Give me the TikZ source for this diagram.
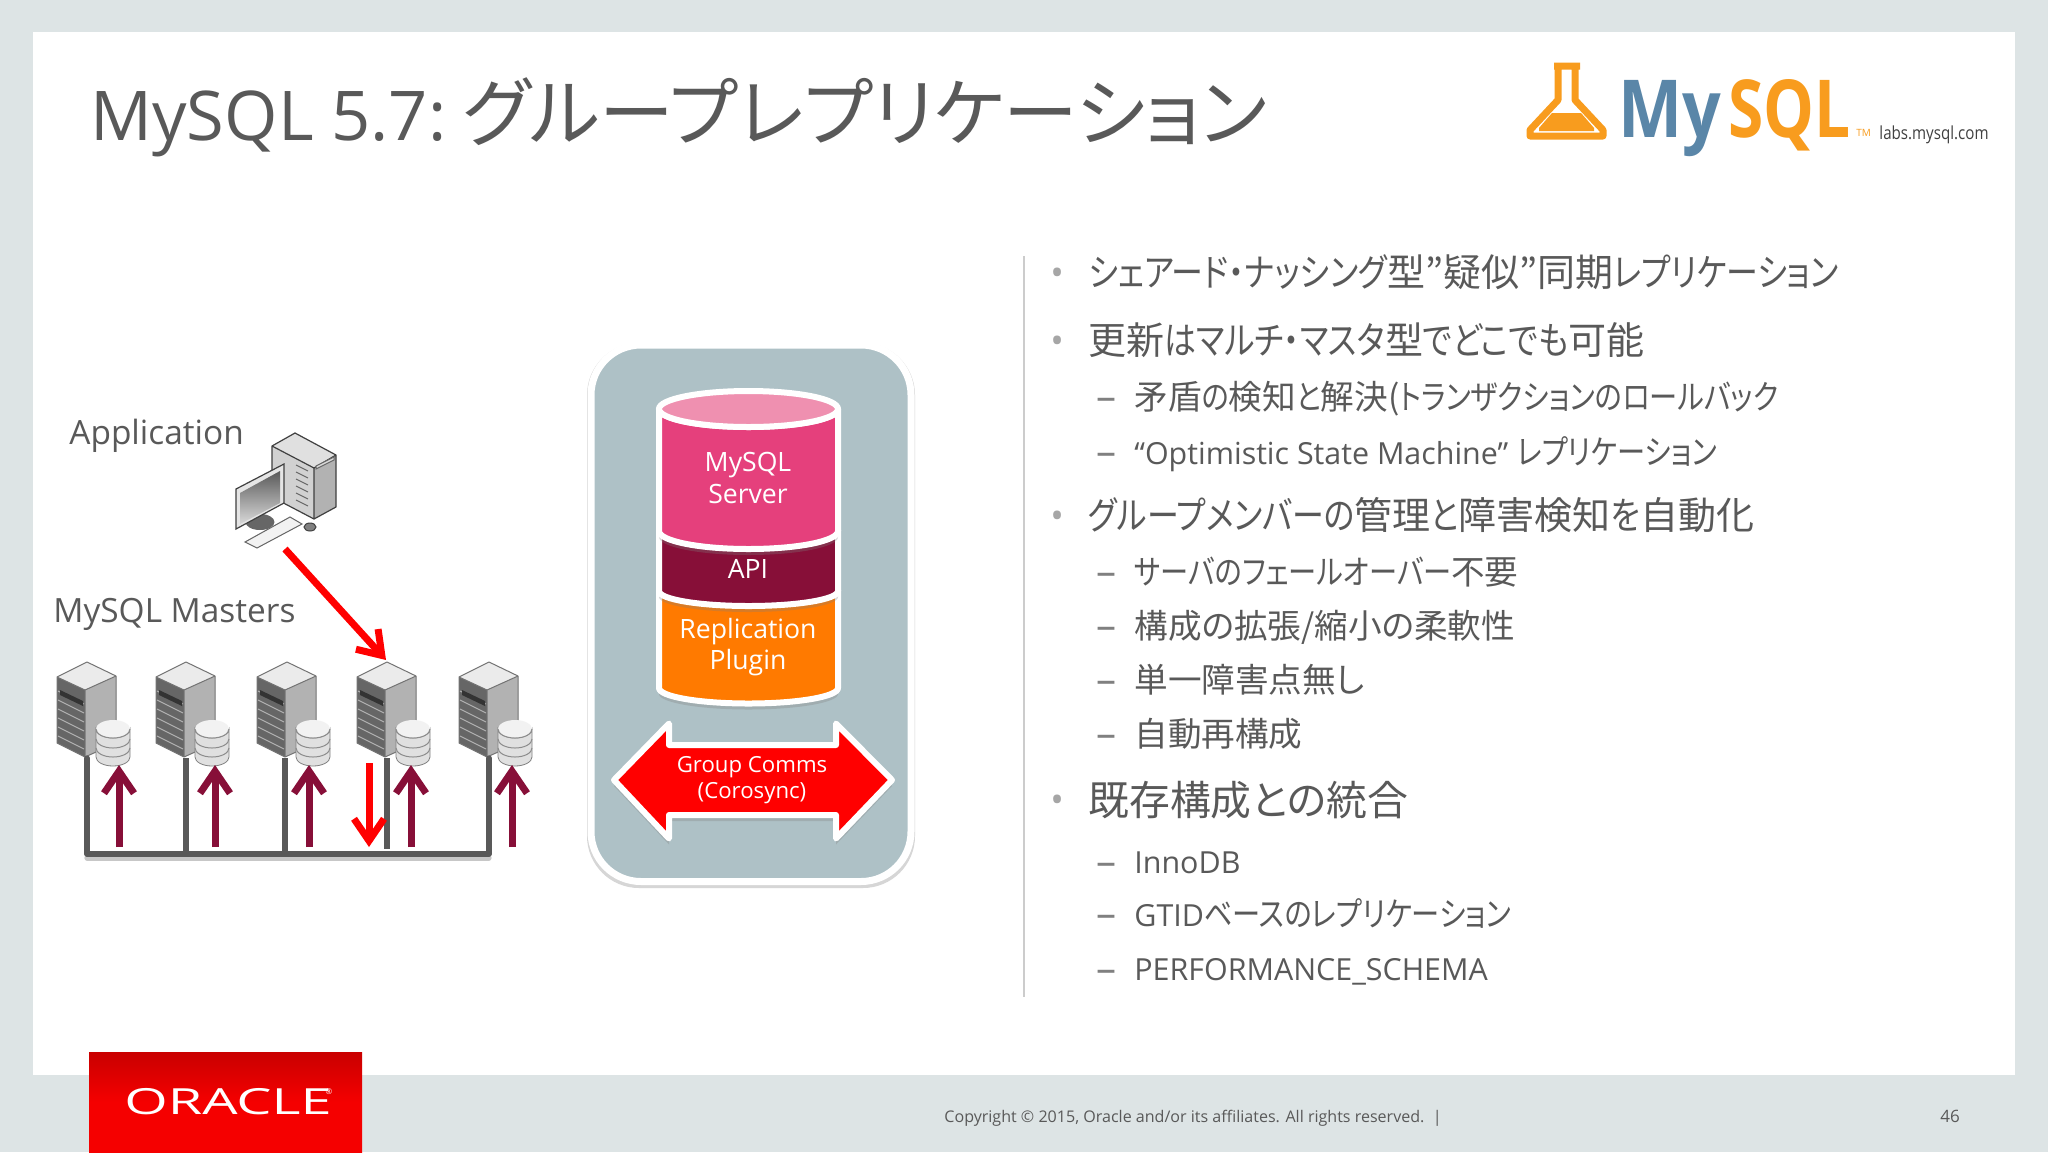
\documentclass[tikz,border=0pt]{standalone}
\usepackage{fontspec}
\setmainfont{Open Sans}
\newfontfamily\jpfont[Script=CJK,RawFeature={+palt}]{Noto Sans CJK JP}
\newfontfamily\kanafont[Script=CJK,RawFeature={+palt},FakeStretch=.84]{Noto Sans CJK JP}
\newcommand{\jp}[1]{{\jpfont #1}}
\newcommand{\kn}[1]{{\kanafont #1}}
\newcommand{\fs}[1]{\fontsize{#1}{#1}\selectfont}
\newcommand{\lat}[1]{{\fs{15.2}#1}}
\usetikzlibrary{arrows.meta,shadows}
\definecolor{slidebg}{HTML}{DDE4E5}
\definecolor{txtgrey}{HTML}{595959}
\definecolor{panelblue}{HTML}{AEC1C6}
\definecolor{pinkbody}{HTML}{E5407C}
\definecolor{pinktop}{HTML}{EF90B0}
\definecolor{apimaroon}{HTML}{870F38}
\definecolor{plugorange}{HTML}{FF7A00}
\definecolor{logoblue}{HTML}{5A86A8}
\definecolor{logoorange}{HTML}{F89C1E}
\definecolor{orared}{HTML}{F50000}
\tikzset{
  lead/.style={anchor=base west,text=txtgrey,inner sep=0pt,font=\fs{19}},
  sublead/.style={anchor=base west,text=txtgrey,inner sep=0pt,font=\fs{16.8}},
  bulletmark/.style={anchor=base,text=black!35,inner sep=0pt,font=\fs{18}},
  dashmark/.style={anchor=base west,text=black!50,inner sep=0pt,font=\fs{20}},
  sidetxt/.style={anchor=base west,text=txtgrey,inner sep=0pt,font=\fs{16.7}},
  stacktxt/.style={text=white,inner sep=0pt,font=\fs{13.3},align=center},
  stackbody/.style={draw=white,line width=3pt,line join=round,drop shadow={opacity=.3,shadow xshift=0pt,shadow yshift=-3pt}},
  uparrow/.style={-{Straight Barb[length=11pt,width=15pt]},line width=3.5pt,draw=apimaroon},
  redarrow/.style={-{Straight Barb[length=11pt,width=15pt]},line width=3.5pt,draw=red},
  busline/.style={line width=2.6pt,draw=black!65},
  serverbox/.pic={
    \fill[black!8] (0,0) -- (30,-15) -- (59,-1) -- (28,13) -- cycle;
    \fill[black!60] (0,0) -- (28,13) -- (28,80) -- (0,66) -- cycle;
    \fill[black!30] (28,13) -- (59,-1) -- (59,66) -- (28,80) -- cycle;
    \draw[black!55,line width=.5pt,line join=round] (0,0) -- (30,-15) -- (59,-1) -- (59,66) -- (28,80) -- (0,66) -- cycle (0,0) -- (28,13) -- (59,-1) (28,13) -- (28,80);
    \foreach \rowy in {14,23,32,41,50,59}
      \draw[black!30,line width=.5pt] (1,\rowy) -- (27,\rowy+13);
    \fill[black!80] (3,13) -- (26,24) -- (26,29) -- (3,18) -- cycle;
    \draw[black!50,line width=.4pt,fill=black!12] (39,52) -- (39,80) arc[start angle=180,end angle=0,x radius=17,y radius=9] -- (73,52) arc[start angle=0,end angle=180,x radius=17,y radius=9] -- cycle;
    \fill[black!5] (56,52) ellipse[x radius=17,y radius=9];
    \draw[black!45,line width=.5pt] (39,52) arc[start angle=180,end angle=0,x radius=17,y radius=9];
    \draw[black!45,line width=.5pt] (39,62) arc[start angle=180,end angle=0,x radius=17,y radius=9];
    \draw[black!45,line width=.5pt] (39,71) arc[start angle=180,end angle=0,x radius=17,y radius=9];
  }
}
\begin{document}
\begin{tikzpicture}[x=0.5pt,y=-0.5pt]
\useasboundingbox (0,0) rectangle (2048,1152);
\fill[slidebg] (0,0) rectangle (2048,1152);
\fill[white] (33,32) rectangle (2015,1075);

\node[anchor=base west,text=txtgrey,inner sep=0pt,font=\fs{34.3}] (title) at (90,140) {MySQL 5.7:\hspace{8pt}\jp{\fs{37.4}グループレプリケーション}};

\draw[line width=3.5pt,draw=logoorange,line join=round] (1554,66) -- (1580,66) (1558,66) -- (1558,100) -- (1530,130) -- (1530,136) -- (1603,136) -- (1603,130) -- (1575,100) -- (1575,66);
\fill[logoorange] (1539,128) -- (1552,113) -- (1581,113) -- (1594,128) -- (1594,131) -- (1539,131) -- cycle;
\node[anchor=base west,inner sep=0pt,font=\fs{40}\bfseries,text=logoblue] (logomy) at (1618,137) {\scalebox{.85}[1]{My}};
\node[anchor=base west,inner sep=0pt,font=\fs{40}\bfseries,text=logoorange] (logosql) at (1728,137) {\scalebox{.8}[1]{SQL}};
\node[anchor=base west,inner sep=0pt,font=\fs{5},text=logoorange] (logotm) at (1856,136) {TM};
\node[anchor=base west,inner sep=0pt,font=\fs{9},text=black!75] (logolabs) at (1879,139) {\scalebox{.84}[1]{labs.mysql.com}};

\node[sidetxt] (appname) at (69,444) {Application};
\node[sidetxt] (mastername) at (53,622) {MySQL Masters};

\fill[black!12] (272,446) -- (295,433) -- (336,455) -- (314,468) -- cycle;
\fill[black!18] (272,446) -- (314,468) -- (314,519) -- (272,497) -- cycle;
\fill[black!30] (314,468) -- (336,455) -- (336,507) -- (314,519) -- cycle;
\draw[black!75,line width=.6pt,line join=round] (272,446) -- (295,433) -- (336,455) -- (336,507) -- (314,519) -- (272,497) -- cycle (272,446) -- (314,468) -- (336,455) (314,468) -- (314,519);
\foreach \venty in {465,472,479,486,493,500}
  \draw[black!60,line width=.5pt] (296,\venty) -- (308,\venty+6);
\draw[black!60,fill=black!15,line width=.5pt] (316,466) -- (334,457) -- (334,460) -- (316,469) -- cycle;
\fill[black!60] (260,522) ellipse[x radius=14.5,y radius=8];
\draw[black!75,fill=black!10,line width=.6pt] (236,489) -- (284,464) -- (284,503) -- (236,529) -- cycle;
\shade[top color=black!65,bottom color=black!15] (240,493) -- (280,471) -- (280,503) -- (240,524) -- cycle;
\draw[black!60,fill=black!5,line width=.5pt] (245,542) -- (290,517) -- (302,524) -- (257,548) -- cycle;
\draw[black!75,fill=black!50,line width=.5pt] (310,527) ellipse[x radius=6,y radius=4];

\foreach \srvx in {57,156,257,357,459}
  \pic at (\srvx,677) {serverbox};

\coordinate (apptail) at (285,549);
\coordinate (srvDtop) at (386,660);
\coordinate (srvAfoot) at (87,758);
\coordinate (srvBfoot) at (186,758);
\coordinate (srvCfoot) at (285,758);
\coordinate (srvDfoot) at (387,758);
\coordinate (srvEfoot) at (489,758);
\coordinate (busA) at (87,854);
\coordinate (busB) at (186,854);
\coordinate (busC) at (285,854);
\coordinate (busD) at (387,849);
\coordinate (busE) at (489,854);

\draw[busline,draw=black!22,line cap=round] (87,858) -- (489,858);
\draw[busline,line join=round,line cap=round] (srvAfoot) -- (busA) -- (busE) -- (srvEfoot);
\draw[busline] (srvBfoot) -- (busB);
\draw[busline] (srvCfoot) -- (busC);
\draw[busline] (srvDfoot) -- (busD);

\coordinate (dskAfoot) at (119,847);
\coordinate (dskAhead) at (119,765);
\coordinate (dskBfoot) at (215,847);
\coordinate (dskBhead) at (215,765);
\coordinate (dskCfoot) at (309,847);
\coordinate (dskChead) at (309,765);
\coordinate (dskDfoot) at (411,847);
\coordinate (dskDhead) at (411,765);
\coordinate (dskEfoot) at (512,847);
\coordinate (dskEhead) at (512,765);
\draw[uparrow] (dskAfoot) -- (dskAhead);
\draw[uparrow] (dskBfoot) -- (dskBhead);
\draw[uparrow] (dskCfoot) -- (dskChead);
\draw[uparrow] (dskDfoot) -- (dskDhead);
\draw[uparrow] (dskEfoot) -- (dskEhead);
\coordinate (rediin) at (369,763);
\coordinate (redout) at (369,847);
\draw[redarrow] (rediin) -- (redout);
\draw[redarrow] (apptail) -- (srvDtop);

\fill[black!16,rounded corners=26pt] (587,343) rectangle (915,888);
\draw[draw=white,line width=3.5pt,fill=panelblue,rounded corners=25pt] (591,345) rectangle (911,881.5);

\draw[stackbody,fill=plugorange] (659,590) -- (659,688) arc[start angle=180,end angle=0,x radius=89.5,y radius=15.5] -- (838,590) -- cycle;
\draw[stackbody,fill=apimaroon] (659,530) -- (659,591) arc[start angle=180,end angle=0,x radius=89.5,y radius=15] -- (838,530) -- cycle;
\draw[stackbody,fill=pinkbody] (659,409) -- (659,531) arc[start angle=180,end angle=0,x radius=89.5,y radius=18] -- (838,409) arc[start angle=0,end angle=180,x radius=89.5,y radius=18] -- cycle;
\draw[draw=white,line width=3pt,fill=pinktop] (748.5,409) ellipse[x radius=89.5,y radius=18];

\node[stacktxt,anchor=center] (srvtxt) at (748,478) {MySQL\\[2.5pt]Server};
\node[stacktxt,anchor=base] (apitxt) at (748,578) {API};
\node[stacktxt,anchor=center] (plugtxt) at (748,647) {Replication\\[2.5pt]Plugin};

\draw[draw=white,line width=3pt,fill=red,line join=round,drop shadow={opacity=.3,shadow xshift=0pt,shadow yshift=-3pt}] (614,780) -- (669,723.5) -- (669,745) -- (836,745) -- (836,723.5) -- (892,780) -- (836,838.5) -- (836,815) -- (669,815) -- (669,838.5) -- cycle;
\node[anchor=center,text=white,inner sep=0pt,font=\fs{11.1},align=center] (commtxt) at (752,780) {Group Comms\\[2pt](Corosync)};

\draw[black!20,line width=1.2pt] (1024,256) -- (1024,997);
\node[bulletmark] (m1) at (1057,285) {•};
\node[lead] (b1) at (1088,286) {\kn{シェアード・ナッシング}\jp{型”疑似”同期}\kn{レプリケーション}};
\node[bulletmark] (m2) at (1057,353) {•};
\node[lead] (b2) at (1088,354) {\jp{更新}\kn{はマルチ・マスタ}\jp{型}\kn{でどこでも}\jp{可能}};
\node[bulletmark] (m3) at (1057,528) {•};
\node[lead] (b3) at (1088,529) {\kn{グループメンバーの}\jp{管理}\kn{と}\jp{障害検知}\kn{を}\jp{自動化}};
\node[bulletmark] (m4) at (1057,812) {•};
\node[lead,font=\fs{20.4}] (b4) at (1088,815) {\jp{既存構成との統合}};

\node[dashmark] (d1) at (1096,410) {–};
\node[sublead] (s1) at (1134,409) {\jp{矛盾}\kn{の}\jp{検知}\kn{と}\jp{解決(}\kn{トランザクションのロールバック}};
\node[dashmark] (d2) at (1096,465) {–};
\node[sublead] (s2) at (1134,464) {\lat{“Optimistic State Machine”} \kn{レプリケーション}};
\node[dashmark] (d3) at (1096,585) {–};
\node[sublead] (s3) at (1134,584) {\kn{サーバのフェールオーバー}\jp{不要}};
\node[dashmark] (d4) at (1096,639) {–};
\node[sublead] (s4) at (1134,638) {\jp{構成の拡張/縮小の柔軟性}};
\node[dashmark] (d5) at (1096,693) {–};
\node[sublead] (s5) at (1134,692) {\jp{単一障害点無し}};
\node[dashmark] (d6) at (1096,747) {–};
\node[sublead] (s6) at (1134,746) {\jp{自動再構成}};
\node[dashmark] (d7) at (1096,875) {–};
\node[sublead] (s7) at (1134,873) {\lat{InnoDB}};
\node[dashmark] (d8) at (1096,927) {–};
\node[sublead] (s8) at (1134,926) {\lat{GTID}\kn{ベースのレプリケーション}};
\node[dashmark] (d9) at (1096,982) {–};
\node[sublead] (s9) at (1134,980) {\lat{PERFORMANCE\_SCHEMA}};

\shade[top color=orared!82!black,bottom color=orared,middle color=orared] (89,1052) rectangle (362,1152);
\node[anchor=center,text=white,inner sep=0pt,font=\fs{18}] (oralogo) at (228,1102) {\scalebox{1.55}[1]{ORACLE}};
\node[anchor=center,text=white,inner sep=0pt,font=\fs{4}] (oramark) at (329,1092) {®};

\node[anchor=base west,text=txtgrey,inner sep=0pt,font=\fs{8.03}] (copytxt) at (944,1122) {Copyright © 2015, Oracle and/or its affiliates. All rights reserved.\ \ |};
\node[anchor=base west,text=txtgrey,inner sep=0pt,font=\fs{8.5}] (pagenum) at (1940,1122) {46};
\end{tikzpicture}
\end{document}
